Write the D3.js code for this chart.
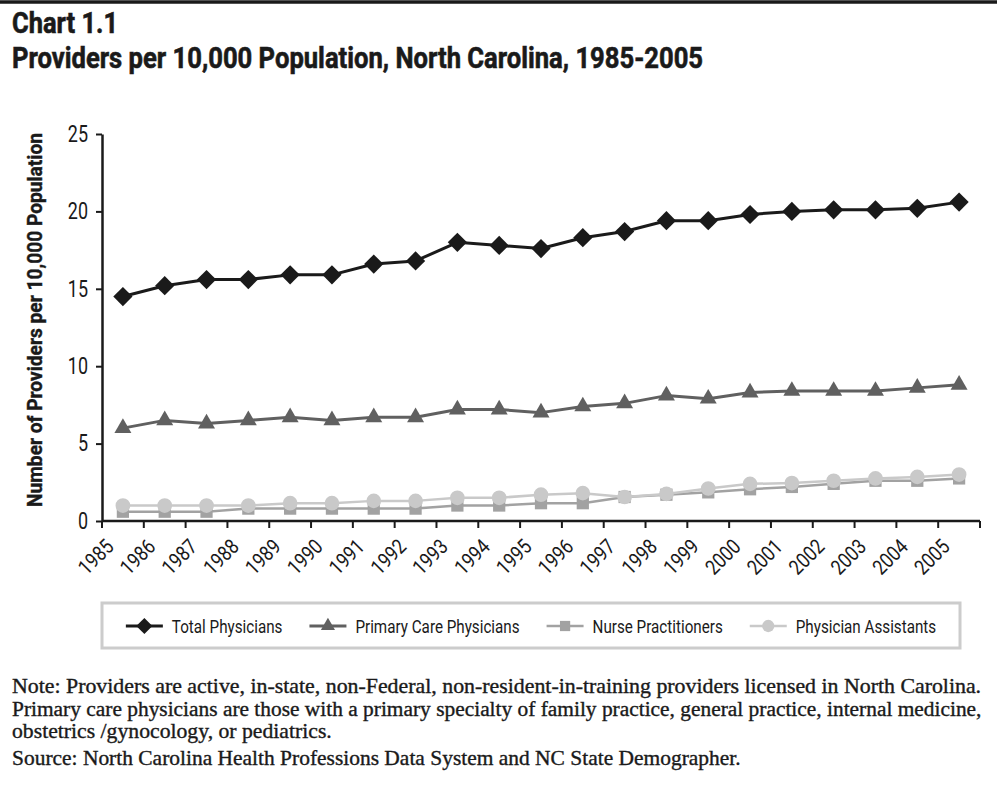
<!DOCTYPE html>
<html>
<head>
<meta charset="utf-8">
<script src="https://cdn.jsdelivr.net/npm/d3@7/dist/d3.min.js"></script>
<style>
  body { margin: 0; background: #fff; }
  svg { display: block; }
  text { font-family: Roboto, "Liberation Sans", sans-serif; fill: #1a1a1a; }
  .serif { font-family: "Liberation Serif", "DejaVu Serif", serif; }
</style>
</head>
<body>
<svg id="chart" width="997" height="799"></svg>
<script>
/** DATA **/
var years = [1985, 1986, 1987, 1988, 1989, 1990, 1991, 1992, 1993, 1994, 1995,
             1996, 1997, 1998, 1999, 2000, 2001, 2002, 2003, 2004, 2005];
var totalPhysicians     = [14.5, 15.2, 15.6, 15.6, 15.9, 15.9, 16.6, 16.8, 18.0, 17.8, 17.6,
                           18.3, 18.7, 19.4, 19.4, 19.8, 20.0, 20.1, 20.1, 20.2, 20.6];
var primaryCare         = [6.0, 6.5, 6.3, 6.5, 6.7, 6.5, 6.7, 6.7, 7.2, 7.2, 7.0,
                           7.4, 7.6, 8.1, 7.9, 8.3, 8.4, 8.4, 8.4, 8.6, 8.8];
var nursePractitioners  = [0.6, 0.6, 0.6, 0.8, 0.8, 0.8, 0.8, 0.8, 1.0, 1.0, 1.15,
                           1.15, 1.55, 1.7, 1.85, 2.05, 2.2, 2.4, 2.6, 2.6, 2.75];
var physicianAssistants = [1.0, 1.0, 1.0, 1.0, 1.15, 1.15, 1.3, 1.3, 1.5, 1.5, 1.7,
                           1.8, 1.55, 1.75, 2.1, 2.4, 2.45, 2.6, 2.75, 2.85, 3.0];
var seriesNames = ["Total Physicians", "Primary Care Physicians", "Nurse Practitioners", "Physician Assistants"];
var yTicks = [0, 5, 10, 15, 20, 25];

var titleLines = ["Chart 1.1", "Providers per 10,000 Population, North Carolina, 1985-2005"];
var yLabel = "Number of Providers per 10,000 Population";
var noteLines = [
  "Note: Providers are active, in-state, non-Federal, non-resident-in-training providers licensed in North Carolina.",
  "Primary care physicians are those with a primary specialty of family practice, general practice, internal medicine,",
  "obstetrics /gynocology, or pediatrics."
];
var sourceLine = "Source: North Carolina Health Professions Data System and NC State Demographer.";

/** STYLE FOR EACH SERIES **/
var seriesData = [totalPhysicians, primaryCare, nursePractitioners, physicianAssistants];
var seriesStyle = [
  {color: "#1a1a1a", width: 3,   symbol: "diamond",  size: 185},
  {color: "#606060", width: 3,   symbol: "triangle", size: 125},
  {color: "#a2a2a2", width: 2.5, symbol: "square",   size: 150},
  {color: "#c9c9c9", width: 2.5, symbol: "circle",   size: 170}
];

var svg = d3.select("#chart");

/* squeeze text horizontally to imitate the condensed faces */
function condense(sel, f) {
  sel.each(function() {
    var w = this.getComputedTextLength();
    d3.select(this).attr("textLength", w * f).attr("lengthAdjust", "spacingAndGlyphs");
  });
}
function fitTo(sel, w) {
  sel.attr("textLength", w).attr("lengthAdjust", "spacingAndGlyphs");
}
/* scale a text placed at (x0, y0) so its width becomes w */
function scaleTo(sel, x0, y0, w) {
  sel.each(function() {
    var nat = this.getComputedTextLength();
    d3.select(this).attr("transform", "translate(" + x0 + "," + y0 + ") scale(" + (w / nat) + ",1)");
  });
}

function markerPath(type, size) {
  var t = {diamond: d3.symbolSquare, triangle: d3.symbolTriangle,
           square: d3.symbolSquare, circle: d3.symbolCircle}[type];
  return d3.symbol().type(t).size(size)();
}

// top rule
svg.append("line")
  .attr("x1", 0).attr("x2", 997).attr("y1", 2).attr("y2", 2)
  .attr("stroke", "#1a1a1a").attr("stroke-width", 3.5);

// title
svg.append("text").attr("x", 12).attr("y", 33)
  .style("font-weight", "bold").style("font-size", "29px")
  .style("stroke", "#1a1a1a").style("stroke-width", 0.6)
  .text(titleLines[0]).call(fitTo, 106);
svg.append("text").attr("x", 12).attr("y", 68)
  .style("font-weight", "bold").style("font-size", "29px")
  .style("stroke", "#1a1a1a").style("stroke-width", 0.6)
  .text(titleLines[1]).call(fitTo, 691);

/** SCALES **/
var x = d3.scaleBand().domain(years).range([102, 980]);
var y = d3.scaleLinear().domain([0, 25]).range([521, 134]);

// y axis
var yAxis = svg.append("g")
  .attr("transform", "translate(" + x.range()[0] + ",0)")
  .call(d3.axisLeft(y).tickValues(yTicks).tickSize(6).tickPadding(8).tickSizeOuter(0));
yAxis.select(".domain").attr("stroke", "#1a1a1a").attr("stroke-width", 2.5);
yAxis.selectAll(".tick line").attr("stroke", "#1a1a1a").attr("stroke-width", 2);
yAxis.selectAll(".tick text")
  .style("font-family", "Roboto, sans-serif").style("font-size", "23px").attr("fill", "#1a1a1a")
  .call(condense, 0.78);

// x axis: ticks sit between categories
var xAxis = svg.append("g").attr("transform", "translate(0," + y(0) + ")");
xAxis.append("line")
  .attr("x1", x.range()[0]).attr("x2", x.range()[1])
  .attr("stroke", "#1a1a1a").attr("stroke-width", 2.5);
xAxis.selectAll(".xtick")
  .data(years.map(function(d) { return x(d); }).concat([x.range()[1]]))
  .enter().append("line")
    .attr("class", "xtick")
    .attr("x1", function(d) { return d; }).attr("x2", function(d) { return d; })
    .attr("y1", 0).attr("y2", 7)
    .attr("stroke", "#1a1a1a").attr("stroke-width", 2);
xAxis.selectAll(".xlabel")
  .data(years)
  .enter().append("text")
    .attr("class", "xlabel")
    .attr("transform", function(d) {
      return "translate(" + (x(d) + x.bandwidth() / 2 - 8) + ",27) rotate(-45)";
    })
    .style("text-anchor", "end").style("font-size", "21px")
    .text(function(d) { return d; })
    .call(condense, 0.84);

// y axis title
svg.append("text")
  .attr("transform", "translate(42,320) rotate(-90)")
  .style("text-anchor", "middle").style("font-weight", "bold").style("font-size", "20px")
  .style("stroke", "#1a1a1a").style("stroke-width", 0.4)
  .text(yLabel).call(fitTo, 374);

/** LINES AND MARKERS **/
var line = d3.line()
  .x(function(d, i) { return x(years[i]) + x.bandwidth() / 2; })
  .y(function(d) { return y(d); });

seriesData.forEach(function(values, s) {
  var st = seriesStyle[s];
  var g = svg.append("g");
  g.append("path")
    .datum(values)
    .attr("d", line)
    .attr("fill", "none")
    .attr("stroke", st.color)
    .attr("stroke-width", st.width)
    .attr("stroke-linejoin", "round");
  g.selectAll(".marker")
    .data(values)
    .enter().append("path")
      .attr("class", "marker")
      .attr("d", markerPath(st.symbol, st.size))
      .attr("transform", function(d, i) {
        var t = "translate(" + (x(years[i]) + x.bandwidth() / 2) + "," + y(d) + ")";
        return st.symbol === "diamond" ? t + " rotate(45)" : t;
      })
      .attr("fill", st.color);
});

/** LEGEND **/
var legend = svg.append("g");
legend.append("rect")
  .attr("x", 102).attr("y", 603).attr("width", 858).attr("height", 45)
  .attr("fill", "none").attr("stroke", "#cccccc").attr("stroke-width", 3);

var items = legend.selectAll(".item")
  .data(seriesNames)
  .enter().append("g").attr("class", "item");
items.append("line")
  .attr("x1", 0).attr("x2", 37).attr("y1", 0).attr("y2", 0)
  .attr("stroke", function(d, i) { return seriesStyle[i].color; })
  .attr("stroke-width", function(d, i) { return seriesStyle[i].width; });
items.append("path")
  .attr("d", function(d, i) { return markerPath(seriesStyle[i].symbol, seriesStyle[i].size * 0.7); })
  .attr("transform", function(d, i) {
    return "translate(18.5,0)" + (seriesStyle[i].symbol === "diamond" ? " rotate(45)" : "");
  })
  .attr("fill", function(d, i) { return seriesStyle[i].color; });
items.append("text")
  .attr("x", 46).attr("y", 7)
  .style("font-size", "19px")
  .text(function(d) { return d; })
  .call(condense, 0.8);

// lay out legend items one after another, centred in the box
var gap = 27, cursor = 0, offsets = [];
items.each(function() {
  offsets.push(cursor);
  cursor += this.getBBox().width + gap;
});
var startX = 531 - (cursor - gap) / 2;
items.attr("transform", function(d, i) { return "translate(" + (startX + offsets[i]) + ",626)"; });

/** NOTES **/
var notes = svg.append("g");
var noteWidths = [970, 970, 320];
noteLines.forEach(function(t, i) {
  notes.append("text")
    .attr("class", "serif")
    .style("font-size", "20px")
    .style("stroke", "#1a1a1a").style("stroke-width", 0.35)
    .text(t).call(scaleTo, 12, 693 + i * 22.5, noteWidths[i]);
});
notes.append("text")
  .attr("class", "serif")
  .style("font-size", "20px")
  .style("stroke", "#1a1a1a").style("stroke-width", 0.35)
  .text(sourceLine).call(scaleTo, 12, 765, 729);
</script>
</body>
</html>
